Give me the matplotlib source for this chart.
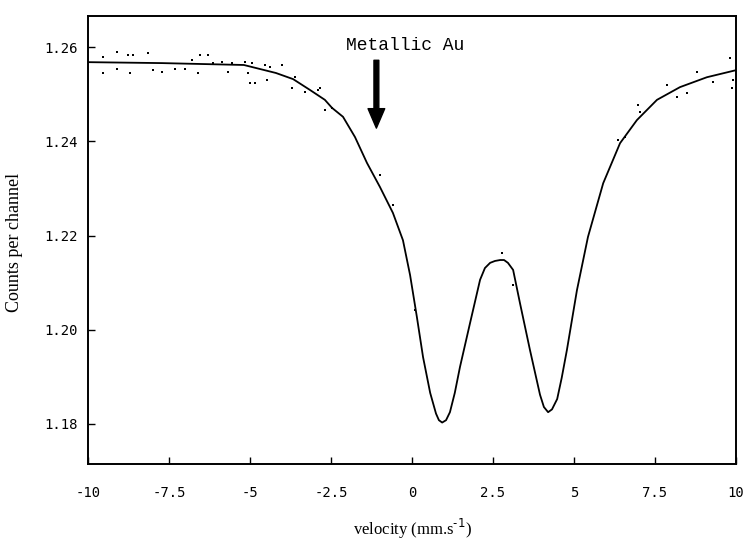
import matplotlib
matplotlib.use("Agg")
import matplotlib.pyplot as plt

# fitted curve (velocity mm/s, counts per channel)
fit_v = [-10.0, -7.72, -5.19, -4.20, -3.67, -3.15, -2.69, -2.47, -2.13, -1.76,
         -1.39, -0.99, -0.59, -0.28, -0.06, 0.15, 0.34, 0.56, 0.74, 0.83,
         0.93, 1.05, 1.17, 1.32, 1.48, 1.79, 2.10, 2.25, 2.41, 2.56, 2.72,
         2.84, 2.96, 3.12, 3.33, 3.64, 3.95, 4.07, 4.20, 4.32, 4.48,
         4.62, 4.78, 5.09, 5.43, 5.90, 6.42, 6.94, 7.56, 8.27, 9.10, 10.0]
fit_c = [1.2568, 1.2566, 1.2562, 1.2545, 1.2532, 1.2509, 1.2488, 1.2471, 1.2452, 1.2409,
         1.2354, 1.2303, 1.2248, 1.2190, 1.2116, 1.2027, 1.1942, 1.1866, 1.1822, 1.1808,
         1.1803, 1.1808, 1.1825, 1.1866, 1.1921, 1.2014, 1.2106, 1.2131, 1.2142, 1.2146, 1.2148,
         1.2148, 1.2142, 1.2127, 1.2057, 1.1957, 1.1862, 1.1836, 1.1825, 1.1831, 1.1853,
         1.1898, 1.1957, 1.2084, 1.2197, 1.2311, 1.2396, 1.2445, 1.2488, 1.2515, 1.2536, 1.2551]

# measured points scattered around the fit
pts_v = [-9.54, -9.10, -8.77, -8.61, -9.54, -9.10, -8.70, -8.15, -7.99, -7.72,
         -7.31, -7.01, -6.60, -6.79, -6.54, -6.30, -6.14, -5.86, -5.68, -5.56,
         -5.15, -4.94, -4.54, -4.38, -5.06, -5.00, -4.85, -4.48, -4.01, -3.70,
         -3.61, -3.30, -2.90, -2.69, -2.47, -2.84, -0.99, -0.59, 0.09, 2.78,
         3.12, 6.36, 6.57, 6.98, 7.04, 7.87, 8.18, 8.49, 8.80, 9.29,
         9.81, 9.88, 9.91]
pts_c = [1.2579, 1.2589, 1.2583, 1.2583, 1.2545, 1.2553, 1.2545, 1.2587, 1.2551, 1.2547,
         1.2553, 1.2553, 1.2545, 1.2572, 1.2583, 1.2583, 1.2566, 1.2568, 1.2547, 1.2566,
         1.2568, 1.2566, 1.2562, 1.2558, 1.2545, 1.2524, 1.2524, 1.2530, 1.2562, 1.2513,
         1.2536, 1.2505, 1.2509, 1.2466, 1.2471, 1.2513, 1.2328, 1.2265, 1.2042, 1.2163,
         1.2095, 1.2403, 1.2409, 1.2477, 1.2462, 1.2519, 1.2494, 1.2502, 1.2547, 1.2526,
         1.2577, 1.2513, 1.2530]

x_ticks = [-10, -7.5, -5, -2.5, 0, 2.5, 5, 7.5, 10]
x_labels = ["-10", "-7.5", "-5", "-2.5", "0", "2.5", "5", "7.5", "10"]
y_ticks = [1.18, 1.20, 1.22, 1.24, 1.26]
y_labels = ["1.18", "1.20", "1.22", "1.24", "1.26"]

arrow_v = -1.1
label_text = "Metallic Au"

fig = plt.figure(figsize=(7.44, 5.42), dpi=100)
ax = fig.add_axes([0.1183, 0.1439, 0.8710, 0.8266])

ax.plot(fit_v, fit_c, color="black", lw=1.3)
ax.scatter(pts_v, pts_c, s=3, color="black", marker="s", lw=0)

ax.set_xlim(-10, 10)
ax.set_ylim(1.1715, 1.2666)

for sp in ax.spines.values():
    sp.set_linewidth(1.4)

ax.set_xticks(x_ticks)
ax.set_xticklabels(x_labels, family="DejaVu Sans Mono", fontsize=10)
ax.set_yticks(y_ticks)
ax.set_yticklabels(y_labels, family="DejaVu Sans Mono", fontsize=10)
ax.tick_params(axis="x", direction="in", length=5, width=1, pad=16)
ax.tick_params(axis="y", direction="in", length=5, width=1, pad=7)

ax.set_xlabel("velocity (mm.s$^{\\text{-}1}$)", family="Liberation Serif",
              fontsize=12, labelpad=12)
fig.text(15 / 744, 1 - 242 / 542, "Counts per channel", family="Liberation Serif",
         fontsize=13, rotation=90, ha="center", va="center")

# annotation with the arrow
ax.text(-0.22, 1.2604, label_text, family="Liberation Mono",
        fontsize=13, ha="center", va="center")
ax.annotate("", xy=(arrow_v, 1.2428), xytext=(arrow_v, 1.2572),
            arrowprops=dict(facecolor="black", edgecolor="black",
                            width=3.5, headwidth=12, headlength=14))

fig.savefig("out.png", dpi=100)
